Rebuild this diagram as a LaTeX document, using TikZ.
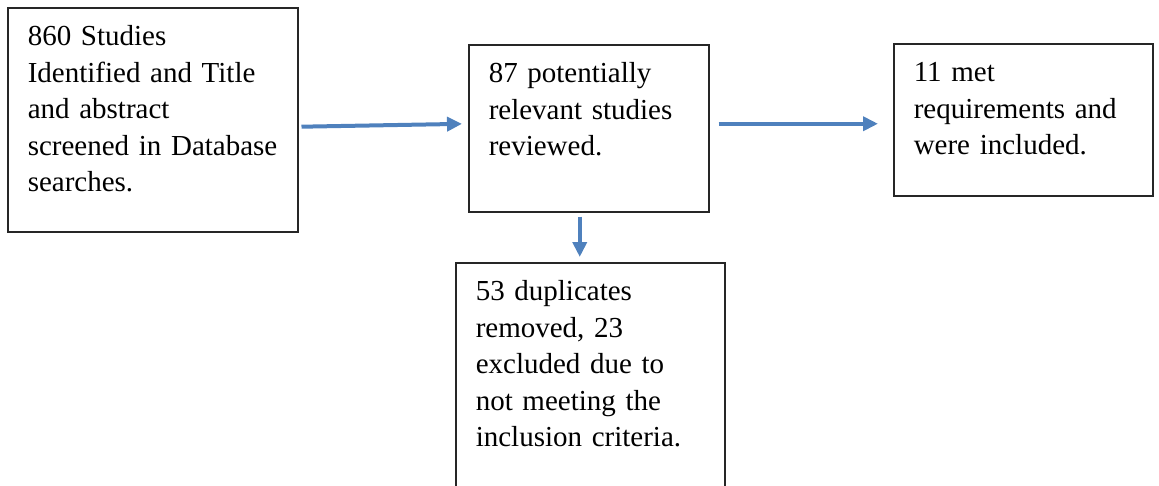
\documentclass[tikz,border=0pt]{standalone}
\usepackage{fontspec}
\setmainfont{Liberation Serif}
\usetikzlibrary{arrows.meta}
\definecolor{flowblue}{RGB}{79,129,189}

\tikzset{
    stagebox/.style={draw=black!85, line width=1.5pt, anchor=north west,
        align=left, inner xsep=20pt, inner ysep=12.5pt, text height=25.5pt,
        font=\fontsize{29pt}{36.5pt}\selectfont},
    flowarrow/.style={draw=flowblue, line width=4pt,
        -{Triangle[length=15pt,width=14pt]}}
}

\begin{document}
\begin{tikzpicture}[x=1pt, y=-1pt]
    \useasboundingbox (0,0) rectangle (1159,485);

    % boxes
    \node[stagebox, text width=250pt, text depth=173.5pt] (found) at (7,7)
        {860 Studies\\ Identified and Title\\ and abstract\\ screened in Database\\ searches.};
    \node[stagebox, text width=200pt, text depth=116.5pt] (review) at (468,44)
        {87 potentially\\ relevant studies\\ reviewed.};
    \node[stagebox, text width=219pt, text depth=101.5pt] (incl) at (893,43)
        {11 met\\ requirements and\\ were included.};
    \node[stagebox, text width=229pt, text depth=175.5pt] (excl) at (455,262)
        {53 duplicates\\ removed, 23\\ excluded due to\\ not meeting the\\ inclusion criteria.};

    % arrows
    \draw[flowarrow, shorten <=3pt, shorten >=6pt]
        ([yshift=-7pt]found.east) -- ([yshift=4.5pt]review.west);
    \draw[flowarrow, shorten <=9pt, shorten >=15pt]
        ([yshift=4.5pt]review.east) -- ([yshift=-4pt]incl.west);
    \draw[flowarrow, shorten <=4pt, shorten >=5pt]
        ([xshift=-9pt]review.south) -- ([xshift=-10.5pt]excl.north);
\end{tikzpicture}
\end{document}
